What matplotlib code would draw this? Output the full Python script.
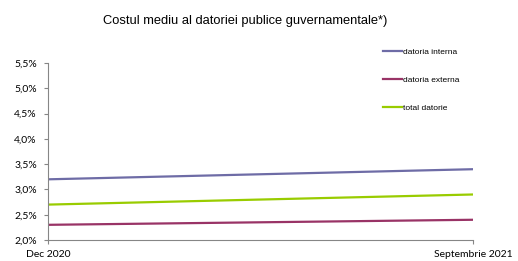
import matplotlib
matplotlib.use("Agg")
import matplotlib.pyplot as plt

categories = ["Dec 2020", "Septembrie 2021"]
interna = [3.2, 3.4]
externa = [2.3, 2.4]
total = [2.7, 2.9]
yticks = [2.0, 2.5, 3.0, 3.5, 4.0, 4.5, 5.0, 5.5]
ytick_labels = ["2,0%", "2,5%", "3,0%", "3,5%", "4,0%", "4,5%", "5,0%", "5,5%"]

fig = plt.figure(figsize=(5.18, 2.61), dpi=100)
ax = fig.add_axes([0.0927, 0.0805, 0.8205, 0.678])

x = [0, 1]
ax.plot(x, interna, color="#6E6CA6", lw=1.6, label="datoria interna")
ax.plot(x, externa, color="#993366", lw=1.6, label="datoria externa")
ax.plot(x, total, color="#99CC00", lw=1.6, label="total datorie")

ax.set_xlim(0, 1)
ax.set_ylim(2.0, 5.5)
ax.set_yticks(yticks)
ax.set_yticklabels(ytick_labels, fontfamily="Lato", fontsize=7.5)
ax.set_xticks(x)
ax.set_xticklabels(categories, fontfamily="Lato", fontsize=7.5)
for s in ["top", "right"]:
    ax.spines[s].set_visible(False)
for s in ["left", "bottom"]:
    ax.spines[s].set_color("#868686")
    ax.spines[s].set_linewidth(0.8)
ax.tick_params(axis="y", direction="out", length=3, width=0.8, color="#868686", pad=5)
ax.tick_params(axis="x", direction="out", length=3, width=0.8, color="#868686", pad=4)

leg = ax.legend(loc="upper left", bbox_to_anchor=(0.77, 1.125), frameon=False,
                prop={"family": "Liberation Sans", "size": 6}, handlelength=2.3,
                handletextpad=0.1, labelspacing=2.4)

fig.text(0.473, 0.92, "Costul mediu al datoriei publice guvernamentale*)",
         ha="center", va="center", fontfamily="Liberation Sans", fontsize=9.3)

fig.savefig("out.png", dpi=100)
